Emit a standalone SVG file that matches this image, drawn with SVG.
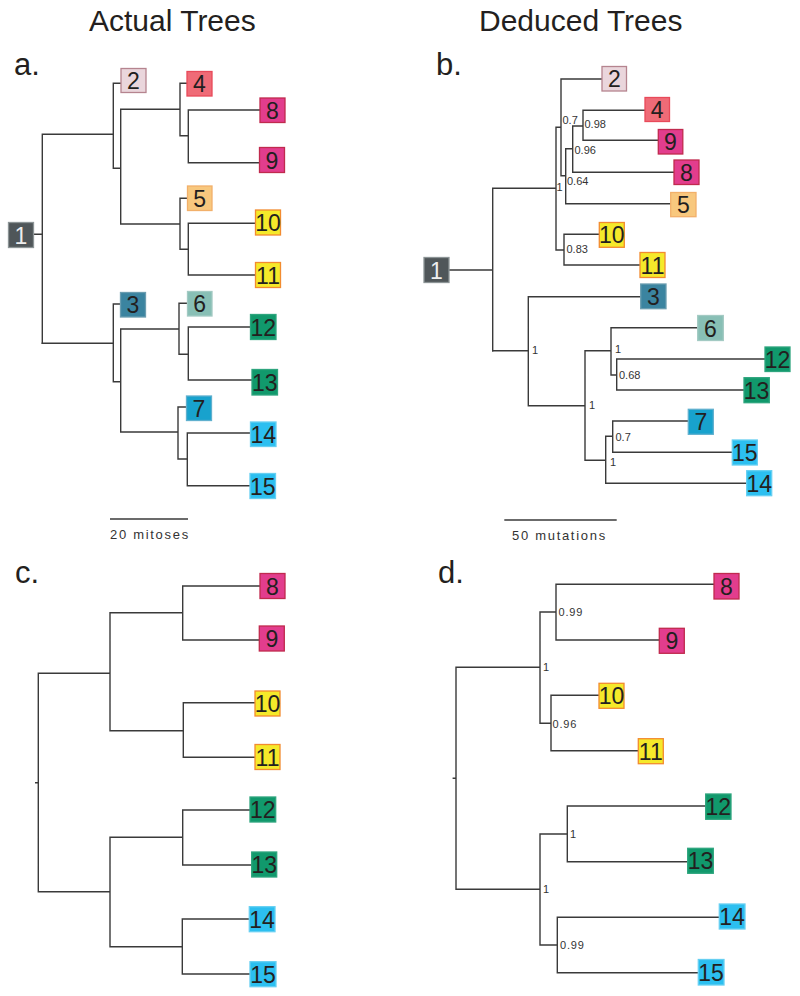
<svg xmlns="http://www.w3.org/2000/svg" width="800" height="996" viewBox="0 0 800 996">
<style>
.ln{fill:none;stroke:#3a3a3a;stroke-width:1.4;stroke-linecap:square}
.bx{stroke-width:1.3}
.nt{font-family:"Liberation Sans",Arial,sans-serif;font-size:23px;fill:#231f20;text-anchor:middle}
.title{font-family:"Liberation Sans",Arial,sans-serif;font-size:30px;fill:#231f20}
.pl{font-family:"Liberation Sans",Arial,sans-serif;font-size:31px;fill:#231f20}
.bs{font-family:"Liberation Sans",Arial,sans-serif;font-size:11px;fill:#333}
.bsd{font-family:"Liberation Sans",Arial,sans-serif;font-size:11px;fill:#333;letter-spacing:0.8px}
.sc{font-family:"Liberation Sans",Arial,sans-serif;font-size:13px;fill:#333;letter-spacing:1.7px}
.c1{fill:#4f5659;stroke:#8c9496}
.c2{fill:#ead6dc;stroke:#b5848f}
.c4{fill:#ef6b77;stroke:#e84a5a}
.c8{fill:#e23d8d;stroke:#c02a4e}
.c5{fill:#f8c87e;stroke:#f2b06a}
.c10{fill:#f5e92a;stroke:#f28b30}
.c3{fill:#3b84a0;stroke:#6b9db0}
.c6{fill:#88bfb5;stroke:#a3cac3}
.c12{fill:#11996c;stroke:#2ea57e}
.c7{fill:#18a2cd;stroke:#5fb0ce}
.c14{fill:#2cbff0;stroke:#66cff2}
</style>

<text class="title" x="89" y="31">Actual Trees</text>
<text class="title" x="479" y="31">Deduced Trees</text>
<text class="pl" x="14" y="75">a.</text>
<text class="pl" x="436" y="75">b.</text>
<text class="pl" x="15" y="583">c.</text>
<text class="pl" x="438" y="583">d.</text>

<g id="connectors">
<!-- panel a -->
<path class="ln" d="M34,234.3H42.3M42.3,134.3V343.3M42.3,134.3H113.3M113.3,83.3V168.3M113.3,83.3H121M113.3,168.3H120.7M120.7,109.3V224M120.7,109.3H180M180,83.3V135.7M180,83.3H187M180,135.7H188.3M188.3,110V162.7M188.3,110H260M188.3,162.7H259.5M120.7,224H180M180,198.3V249.3M180,198.3H187.5M180,249.3H188.3M188.3,223.3V275M188.3,223.3H255.5M188.3,275H255.5"/>
<path class="ln" d="M42.3,343.3H113.3M113.3,304V381.7M113.3,304H120.5M113.3,381.7H120.7M120.7,329V432M120.7,329H179M179,303.3V354.3M179,303.3H187.5M179,354.3H188.3M188.3,327V380M188.3,327H250.5M188.3,380H252M120.7,432H178M178,407V459M178,407H186.5M178,459H187.3M187.3,433V485.7M187.3,433H250.5M187.3,485.7H250"/>
<path class="ln" d="M110.7,519H187.3"/>
<!-- panel b -->
<path class="ln" d="M449,270H492.7M492.7,188.3V350.7M492.7,188.3H556M556,127.3V250M556,127.3H561M561,79V175.7M561,79H602M561,175.7H565.7M565.7,148.7V203.7M565.7,203.7H670.7M565.7,148.7H572.7M572.7,126V172.3M572.7,172.3H674M572.7,126H583M583,110.3V140.3M583,110.3H645M583,140.3H658.3M556,250H564M564,234.3V265M564,234.3H599.3M564,265H640"/>
<path class="ln" d="M492.7,350.7H528.3M528.3,296.7V405.7M528.3,296.7H640.7M528.3,405.7H585M585,350.7V460.3M585,350.7H611M611,327.7V375M611,327.7H697.7M611,375H616.7M616.7,359V390M616.7,359H765M616.7,390H744M585,460.3H605.7M605.7,436.3V483.3M605.7,436.3H612.7M612.7,421V452.3M612.7,421H688.3M612.7,452.3H732.3M605.7,483.3H746.7"/>
<path class="ln" d="M505,520H616"/>
<!-- panel c -->
<path class="ln" d="M35.7,782.7H38.3M38.3,673.3V891.7M38.3,673.3H110M110,612.7V730.7M110,612.7H182.7M182.7,586V640M182.7,586H260M182.7,640H259.3M110,730.7H183.3M183.3,702.7V757.3M183.3,702.7H255M183.3,757.3H255M38.3,891.7H110M110,837.3V946.7M110,837.3H182.7M182.7,810V865M182.7,810H250M182.7,865H251.7M110,946.7H182.3M182.3,919V974M182.3,919H249.3M182.3,974H250"/>
<!-- panel d -->
<path class="ln" d="M453.3,778.3H456M456,667.3V889.3M456,667.3H540M540,612V723.3M540,612H556M556,584.3V640M556,584.3H714M556,640H659.3M540,723.3H551M551,695.3V750.7M551,695.3H599M551,750.7H638.3M456,889.3H540M540,834V945M540,834H567.3M567.3,806V861.7M567.3,806H705.7M567.3,861.7H687.7M540,945H557.3M557.3,917.3V972.7M557.3,917.3H719.3M557.3,972.7H698.3"/>
</g>

<g id="labels">
<text class="sc" x="110" y="539">20 mitoses</text>
<text class="sc" x="512" y="540">50 mutations</text>
<text class="bs" x="562.5" y="124">0.7</text>
<text class="bs" x="584.5" y="128.3">0.98</text>
<text class="bs" x="574.5" y="154">0.96</text>
<text class="bs" x="567" y="185">0.64</text>
<text class="bs" x="556.5" y="191">1</text>
<text class="bs" x="566.5" y="253.3">0.83</text>
<text class="bs" x="532" y="354">1</text>
<text class="bs" x="615" y="353">1</text>
<text class="bs" x="619" y="379">0.68</text>
<text class="bs" x="589" y="409">1</text>
<text class="bs" x="615.5" y="440.7">0.7</text>
<text class="bs" x="610" y="465.5">1</text>
<text class="bsd" x="558.5" y="616">0.99</text>
<text class="bsd" x="543" y="671">1</text>
<text class="bsd" x="552.5" y="727.7">0.96</text>
<text class="bsd" x="570" y="838">1</text>
<text class="bsd" x="543" y="893">1</text>
<text class="bsd" x="560" y="949">0.99</text>
</g>

<!-- panel a nodes -->
<g id="a-n1"><rect class="bx c1" x="8.5" y="222.5" width="25" height="25"/><text class="nt" x="21" y="243.5" style="fill:#eeeeee">1</text></g>
<g id="a-n2"><rect class="bx c2" x="121" y="68.5" width="25" height="24"/><text class="nt" x="133.5" y="89">2</text></g>
<g id="a-n4"><rect class="bx c4" x="187" y="71.5" width="25" height="24.5"/><text class="nt" x="199.5" y="92">4</text></g>
<g id="a-n8"><rect class="bx c8" x="260" y="98" width="25" height="24.5"/><text class="nt" x="272.5" y="118.5">8</text></g>
<g id="a-n9"><rect class="bx c8" x="259.5" y="147.5" width="25" height="25"/><text class="nt" x="272" y="168.5">9</text></g>
<g id="a-n5"><rect class="bx c5" x="187.5" y="186" width="24.5" height="24.5"/><text class="nt" x="199.7" y="206.5">5</text></g>
<g id="a-n10"><rect class="bx c10" x="255.5" y="210" width="25" height="25"/><text class="nt" x="268" y="231">10</text></g>
<g id="a-n11"><rect class="bx c10" x="255.5" y="262.5" width="25" height="25"/><text class="nt" x="268" y="283.5">11</text></g>
<g id="a-n3"><rect class="bx c3" x="120.5" y="292.5" width="25" height="24.5"/><text class="nt" x="133" y="313">3</text></g>
<g id="a-n6"><rect class="bx c6" x="187.5" y="291.5" width="24.5" height="24.5"/><text class="nt" x="199.7" y="312">6</text></g>
<g id="a-n12"><rect class="bx c12" x="250.5" y="314.5" width="25.5" height="25"/><text class="nt" x="263.2" y="335.5">12</text></g>
<g id="a-n13"><rect class="bx c12" x="252" y="369.5" width="25.5" height="25.5"/><text class="nt" x="264.7" y="391">13</text></g>
<g id="a-n7"><rect class="bx c7" x="186.5" y="396" width="25" height="24.5"/><text class="nt" x="199" y="416.5">7</text></g>
<g id="a-n14"><rect class="bx c14" x="250.5" y="422" width="25.5" height="24.5"/><text class="nt" x="263.2" y="442.5">14</text></g>
<g id="a-n15"><rect class="bx c14" x="250" y="473.5" width="25.5" height="25"/><text class="nt" x="262.7" y="494.5">15</text></g>

<!-- panel b nodes -->
<g id="b-n1"><rect class="bx c1" x="424" y="257.5" width="25" height="25"/><text class="nt" x="436.5" y="278.5" style="fill:#eeeeee">1</text></g>
<g id="b-n2"><rect class="bx c2" x="602" y="66.5" width="24.5" height="24.5"/><text class="nt" x="614.3" y="87">2</text></g>
<g id="b-n4"><rect class="bx c4" x="645" y="97.5" width="24.5" height="24"/><text class="nt" x="657.2" y="117.7">4</text></g>
<g id="b-n9"><rect class="bx c8" x="658.3" y="129.5" width="24.5" height="24.5"/><text class="nt" x="670.5" y="150">9</text></g>
<g id="b-n8"><rect class="bx c8" x="674" y="160" width="25" height="24.5"/><text class="nt" x="686.5" y="180.5">8</text></g>
<g id="b-n5"><rect class="bx c5" x="670.7" y="192.5" width="25.3" height="24.2"/><text class="nt" x="683.3" y="212.8">5</text></g>
<g id="b-n10"><rect class="bx c10" x="599.3" y="222.5" width="25" height="24.8"/><text class="nt" x="611.8" y="243.2">10</text></g>
<g id="b-n11"><rect class="bx c10" x="640" y="252.5" width="25" height="25"/><text class="nt" x="652.5" y="273.5">11</text></g>
<g id="b-n3"><rect class="bx c3" x="640.7" y="284" width="25.3" height="24.7"/><text class="nt" x="653.3" y="304.8">3</text></g>
<g id="b-n6"><rect class="bx c6" x="697.7" y="315.5" width="25.6" height="25"/><text class="nt" x="710.5" y="336.5">6</text></g>
<g id="b-n12"><rect class="bx c12" x="765" y="347" width="25" height="24.5"/><text class="nt" x="777.5" y="367.7">12</text></g>
<g id="b-n13"><rect class="bx c12" x="744" y="377.7" width="25.3" height="25"/><text class="nt" x="756.6" y="398.7">13</text></g>
<g id="b-n7"><rect class="bx c7" x="688.3" y="409.3" width="25" height="25"/><text class="nt" x="700.8" y="430.3">7</text></g>
<g id="b-n15"><rect class="bx c14" x="732.3" y="440" width="25" height="25"/><text class="nt" x="744.8" y="461">15</text></g>
<g id="b-n14"><rect class="bx c14" x="746.7" y="470.7" width="25" height="25"/><text class="nt" x="759.2" y="491.7">14</text></g>

<!-- panel c nodes -->
<g id="c-n8"><rect class="bx c8" x="260" y="573.5" width="25" height="25"/><text class="nt" x="272.5" y="594.5">8</text></g>
<g id="c-n9"><rect class="bx c8" x="259.3" y="626" width="25" height="25"/><text class="nt" x="271.8" y="647">9</text></g>
<g id="c-n10"><rect class="bx c10" x="255" y="691" width="25" height="25"/><text class="nt" x="267.5" y="712">10</text></g>
<g id="c-n11"><rect class="bx c10" x="255" y="744.5" width="25" height="25"/><text class="nt" x="267.5" y="765.5">11</text></g>
<g id="c-n12"><rect class="bx c12" x="250" y="797" width="25.7" height="25"/><text class="nt" x="262.8" y="818">12</text></g>
<g id="c-n13"><rect class="bx c12" x="251.7" y="852" width="25" height="25"/><text class="nt" x="264.2" y="873">13</text></g>
<g id="c-n14"><rect class="bx c14" x="249.3" y="906.7" width="25.7" height="25"/><text class="nt" x="262.1" y="927.7">14</text></g>
<g id="c-n15"><rect class="bx c14" x="250" y="961.7" width="26" height="25"/><text class="nt" x="263" y="982.7">15</text></g>

<!-- panel d nodes -->
<g id="d-n8"><rect class="bx c8" x="714" y="573.5" width="25" height="25.5"/><text class="nt" x="726.5" y="594.8">8</text></g>
<g id="d-n9"><rect class="bx c8" x="659.3" y="628.3" width="25" height="25"/><text class="nt" x="671.8" y="649.3">9</text></g>
<g id="d-n10"><rect class="bx c10" x="599" y="683.3" width="25" height="25"/><text class="nt" x="611.5" y="704.3">10</text></g>
<g id="d-n11"><rect class="bx c10" x="638.3" y="738.7" width="25" height="25"/><text class="nt" x="650.8" y="759.7">11</text></g>
<g id="d-n12"><rect class="bx c12" x="705.7" y="794" width="25.3" height="25.3"/><text class="nt" x="718.3" y="815.2">12</text></g>
<g id="d-n13"><rect class="bx c12" x="687.7" y="848.3" width="25.6" height="25"/><text class="nt" x="700.5" y="869.3">13</text></g>
<g id="d-n14"><rect class="bx c14" x="719.3" y="904" width="25.7" height="25"/><text class="nt" x="732.1" y="925">14</text></g>
<g id="d-n15"><rect class="bx c14" x="698.3" y="959.5" width="25.7" height="25.5"/><text class="nt" x="711.1" y="980.7">15</text></g>
</svg>
